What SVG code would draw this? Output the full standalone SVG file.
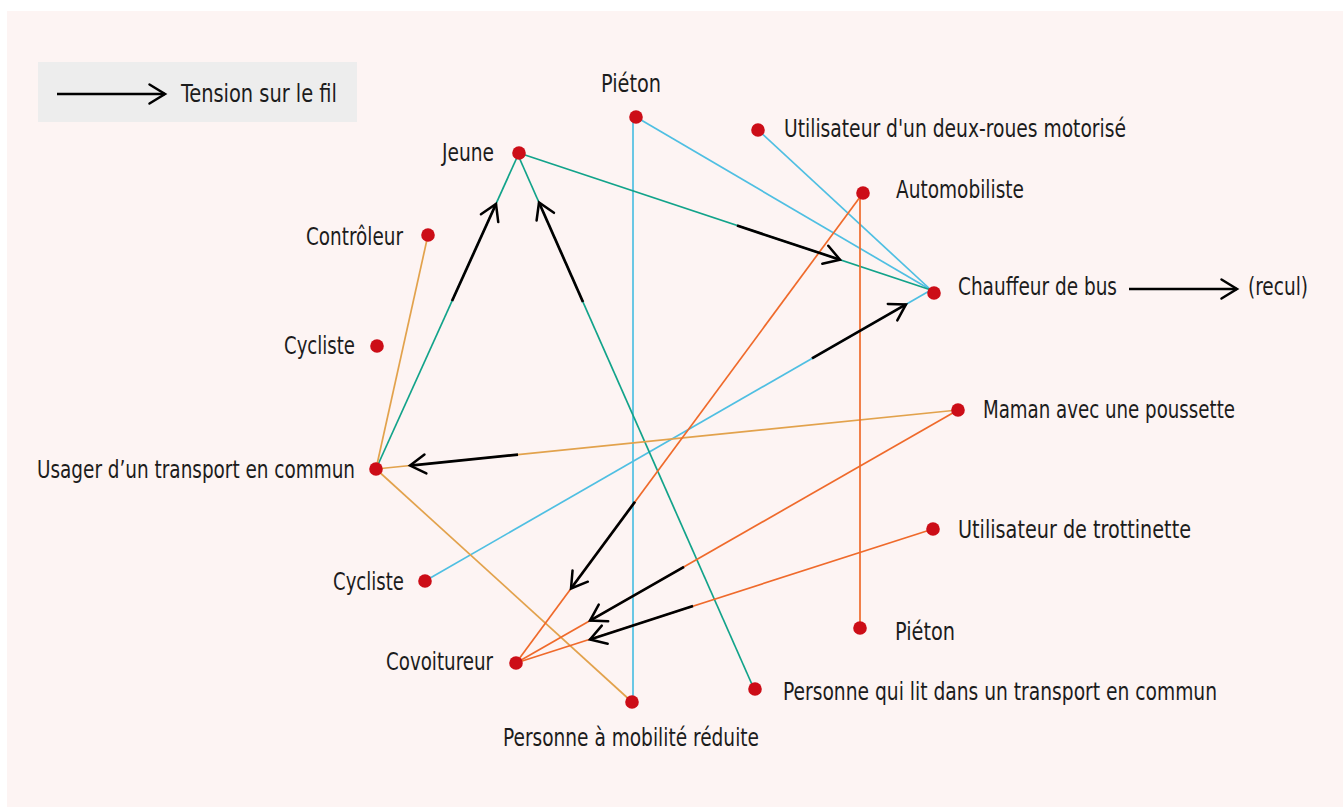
<svg xmlns="http://www.w3.org/2000/svg" width="1343" height="807" viewBox="0 0 1343 807">
<defs>
<marker id="head" markerUnits="userSpaceOnUse" markerWidth="40" markerHeight="40" viewBox="-20 -20 40 40" refX="0" refY="0" orient="auto">
<path d="M-15.5,-9.5 L0,0 L-15.5,9.5" fill="none" stroke="#000" stroke-width="2.5" stroke-linecap="round" stroke-linejoin="miter"/>
</marker>
<style>
.t{font-family:"Liberation Sans Narrow","DejaVu Sans Condensed","Roboto Condensed","Liberation Sans",sans-serif;font-size:24px;fill:#1c1c1c}
.e{fill:none;stroke-width:1.7}
.g{stroke:#12a38a}
.b{stroke:#4fbfe2}
.o{stroke:#ef6a2b}
.y{stroke:#e2a24c}
.a{fill:none;stroke:#000;stroke-width:2.7;marker-end:url(#head)}
.d{fill:#cc0d17}
</style>
</defs>
<rect x="0" y="0" width="1343" height="807" fill="#ffffff"/>
<rect x="7" y="11" width="1336" height="796" fill="#fdf4f3"/>
<g id="legend">
<rect x="38" y="62" width="319" height="60" fill="#ededed"/>
<line class="a" x1="57" y1="94" x2="165" y2="94"/>
<text class="t" x="181" y="102" textLength="156" lengthAdjust="spacingAndGlyphs">Tension sur le fil</text>
</g>
<g id="connectors">
<line class="e b" x1="633" y1="117" x2="633" y2="702"/>
<line class="e b" x1="636" y1="117" x2="931" y2="290"/>
<line class="e b" x1="758" y1="130" x2="931" y2="290"/>
<line class="e b" x1="425" y1="581" x2="931" y2="290"/>
<line class="e g" x1="519" y1="153" x2="931" y2="290"/>
<line class="e g" x1="519" y1="153" x2="376" y2="469"/>
<line class="e g" x1="518" y1="155" x2="754" y2="689"/>
<line class="e y" x1="428" y1="235" x2="376" y2="469"/>
<line class="e y" x1="958" y1="410" x2="376" y2="469"/>
<line class="e y" x1="376" y1="469" x2="632" y2="702"/>
<line class="e o" x1="860" y1="195" x2="860" y2="628"/>
<line class="e o" x1="863" y1="193" x2="516" y2="663"/>
<line class="e o" x1="958" y1="410" x2="516" y2="663"/>
<line class="e o" x1="933" y1="529" x2="516" y2="663"/>
<line class="a" x1="812" y1="358.4" x2="906" y2="304.4"/>
<line class="a" x1="737" y1="225.5" x2="840" y2="259.7"/>
<line class="a" x1="452" y1="301" x2="496" y2="204"/>
<line class="a" x1="583" y1="302" x2="539" y2="202.5"/>
<line class="a" x1="518" y1="454.6" x2="410" y2="465.6"/>
<line class="a" x1="635" y1="501.8" x2="571" y2="588.5"/>
<line class="a" x1="684" y1="566.8" x2="590" y2="620.6"/>
<line class="a" x1="693" y1="606" x2="590" y2="639.5"/>
<line class="a" x1="1129" y1="289" x2="1237" y2="289"/>
</g>
<g id="n-pieton1"><circle class="d" cx="636" cy="117" r="6.8"/><text class="t" x="601" y="92" textLength="60" lengthAdjust="spacingAndGlyphs">Piéton</text></g>
<g id="n-deuxroues"><circle class="d" cx="758" cy="130" r="6.8"/><text class="t" x="784" y="137" textLength="342" lengthAdjust="spacingAndGlyphs">Utilisateur d'un deux-roues motorisé</text></g>
<g id="n-jeune"><circle class="d" cx="519" cy="153" r="6.8"/><text class="t" x="442" y="161" textLength="52" lengthAdjust="spacingAndGlyphs">Jeune</text></g>
<g id="n-automobiliste"><circle class="d" cx="863" cy="193" r="6.8"/><text class="t" x="896" y="198" textLength="128" lengthAdjust="spacingAndGlyphs">Automobiliste</text></g>
<g id="n-controleur"><circle class="d" cx="428" cy="235" r="6.8"/><text class="t" x="306" y="245" textLength="97" lengthAdjust="spacingAndGlyphs">Contrôleur</text></g>
<g id="n-chauffeur"><circle class="d" cx="934" cy="293" r="6.8"/><text class="t" x="958" y="295" textLength="159" lengthAdjust="spacingAndGlyphs">Chauffeur de bus</text><text class="t" x="1248" y="295" textLength="60" lengthAdjust="spacingAndGlyphs">(recul)</text></g>
<g id="n-cycliste1"><circle class="d" cx="377" cy="346" r="6.8"/><text class="t" x="284" y="354" textLength="71" lengthAdjust="spacingAndGlyphs">Cycliste</text></g>
<g id="n-maman"><circle class="d" cx="958" cy="410" r="6.8"/><text class="t" x="983" y="418" textLength="252" lengthAdjust="spacingAndGlyphs">Maman avec une poussette</text></g>
<g id="n-usager"><circle class="d" cx="376" cy="469" r="6.8"/><text class="t" x="37" y="478" textLength="318" lengthAdjust="spacingAndGlyphs">Usager d’un transport en commun</text></g>
<g id="n-trottinette"><circle class="d" cx="933" cy="529" r="6.8"/><text class="t" x="958" y="538" textLength="233" lengthAdjust="spacingAndGlyphs">Utilisateur de trottinette</text></g>
<g id="n-cycliste2"><circle class="d" cx="425" cy="581" r="6.8"/><text class="t" x="333" y="590" textLength="71" lengthAdjust="spacingAndGlyphs">Cycliste</text></g>
<g id="n-pieton2"><circle class="d" cx="860" cy="628" r="6.8"/><text class="t" x="895" y="640" textLength="60" lengthAdjust="spacingAndGlyphs">Piéton</text></g>
<g id="n-covoitureur"><circle class="d" cx="516" cy="663" r="6.8"/><text class="t" x="386" y="670" textLength="107" lengthAdjust="spacingAndGlyphs">Covoitureur</text></g>
<g id="n-lecteur"><circle class="d" cx="755" cy="689" r="6.8"/><text class="t" x="783" y="700" textLength="434" lengthAdjust="spacingAndGlyphs">Personne qui lit dans un transport en commun</text></g>
<g id="n-pmr"><circle class="d" cx="632" cy="702" r="6.8"/><text class="t" x="503" y="746" textLength="256" lengthAdjust="spacingAndGlyphs">Personne à mobilité réduite</text></g>
</svg>
